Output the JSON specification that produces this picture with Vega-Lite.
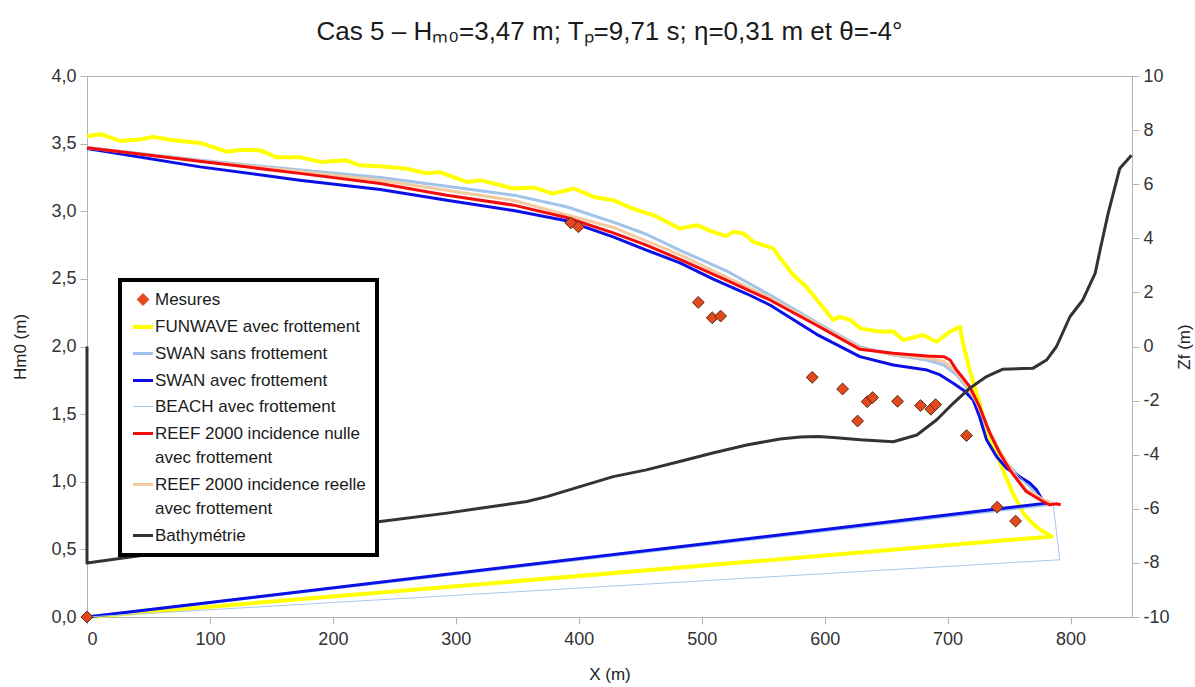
{
  "$schema": "https://vega.github.io/schema/vega-lite/v6.json",
  "width": 1045,
  "height": 541,
  "autosize": "none",
  "padding": {"left": 87, "top": 76, "right": 63, "bottom": 70},
  "background": "white",
  "title": {
    "text": "Cas 5 – Hₘ₀=3,47 m; Tₚ=9,71 s; η=0,31 m et θ=-4°",
    "font": "Liberation Sans",
    "fontSize": 26,
    "fontWeight": "normal",
    "color": "#1a1a1a",
    "offset": 22
  },
  "config": {
    "view": {"stroke": "#b3b3b3", "strokeWidth": 1},
    "axis": {
      "grid": false,
      "domainColor": "#b3b3b3",
      "tickColor": "#b3b3b3",
      "tickSize": 7,
      "labelFont": "Liberation Sans",
      "labelFontSize": 18,
      "labelColor": "#333333",
      "titleFont": "Liberation Sans",
      "titleFontSize": 17,
      "titleFontWeight": "normal",
      "titleColor": "#222222"
    },
    "legend": {"strokeWidth": 4},
    "style": {"guide-label": {"lineHeight": 24}}
  },
  "datasets": {
    "hm0": [
      {"s": "FUNWAVE avec frottement", "X": 0, "H": 3.555},
      {"s": "FUNWAVE avec frottement", "X": 11, "H": 3.57},
      {"s": "FUNWAVE avec frottement", "X": 27, "H": 3.52},
      {"s": "FUNWAVE avec frottement", "X": 43, "H": 3.53},
      {"s": "FUNWAVE avec frottement", "X": 54, "H": 3.55},
      {"s": "FUNWAVE avec frottement", "X": 70, "H": 3.525},
      {"s": "FUNWAVE avec frottement", "X": 92, "H": 3.505},
      {"s": "FUNWAVE avec frottement", "X": 114, "H": 3.44},
      {"s": "FUNWAVE avec frottement", "X": 125, "H": 3.455},
      {"s": "FUNWAVE avec frottement", "X": 141, "H": 3.45},
      {"s": "FUNWAVE avec frottement", "X": 154, "H": 3.4},
      {"s": "FUNWAVE avec frottement", "X": 173, "H": 3.4},
      {"s": "FUNWAVE avec frottement", "X": 190, "H": 3.365},
      {"s": "FUNWAVE avec frottement", "X": 211, "H": 3.377},
      {"s": "FUNWAVE avec frottement", "X": 222, "H": 3.34},
      {"s": "FUNWAVE avec frottement", "X": 241, "H": 3.33},
      {"s": "FUNWAVE avec frottement", "X": 260, "H": 3.315},
      {"s": "FUNWAVE avec frottement", "X": 276, "H": 3.28},
      {"s": "FUNWAVE avec frottement", "X": 287, "H": 3.29},
      {"s": "FUNWAVE avec frottement", "X": 309, "H": 3.217},
      {"s": "FUNWAVE avec frottement", "X": 320, "H": 3.23},
      {"s": "FUNWAVE avec frottement", "X": 347, "H": 3.168},
      {"s": "FUNWAVE avec frottement", "X": 363, "H": 3.176},
      {"s": "FUNWAVE avec frottement", "X": 379, "H": 3.13},
      {"s": "FUNWAVE avec frottement", "X": 396, "H": 3.168},
      {"s": "FUNWAVE avec frottement", "X": 412, "H": 3.106},
      {"s": "FUNWAVE avec frottement", "X": 428, "H": 3.082},
      {"s": "FUNWAVE avec frottement", "X": 444, "H": 3.02},
      {"s": "FUNWAVE avec frottement", "X": 461, "H": 2.97},
      {"s": "FUNWAVE avec frottement", "X": 482, "H": 2.873},
      {"s": "FUNWAVE avec frottement", "X": 496, "H": 2.897},
      {"s": "FUNWAVE avec frottement", "X": 509, "H": 2.848},
      {"s": "FUNWAVE avec frottement", "X": 520, "H": 2.816},
      {"s": "FUNWAVE avec frottement", "X": 526, "H": 2.848},
      {"s": "FUNWAVE avec frottement", "X": 534, "H": 2.836},
      {"s": "FUNWAVE avec frottement", "X": 542, "H": 2.774},
      {"s": "FUNWAVE avec frottement", "X": 550, "H": 2.75},
      {"s": "FUNWAVE avec frottement", "X": 558, "H": 2.725},
      {"s": "FUNWAVE avec frottement", "X": 564, "H": 2.651},
      {"s": "FUNWAVE avec frottement", "X": 574.5, "H": 2.528},
      {"s": "FUNWAVE avec frottement", "X": 585, "H": 2.442},
      {"s": "FUNWAVE avec frottement", "X": 596, "H": 2.319},
      {"s": "FUNWAVE avec frottement", "X": 607, "H": 2.196},
      {"s": "FUNWAVE avec frottement", "X": 612, "H": 2.22},
      {"s": "FUNWAVE avec frottement", "X": 621, "H": 2.196},
      {"s": "FUNWAVE avec frottement", "X": 629, "H": 2.134},
      {"s": "FUNWAVE avec frottement", "X": 645, "H": 2.11},
      {"s": "FUNWAVE avec frottement", "X": 656, "H": 2.11},
      {"s": "FUNWAVE avec frottement", "X": 664, "H": 2.048},
      {"s": "FUNWAVE avec frottement", "X": 680, "H": 2.085},
      {"s": "FUNWAVE avec frottement", "X": 691, "H": 2.035},
      {"s": "FUNWAVE avec frottement", "X": 702, "H": 2.11},
      {"s": "FUNWAVE avec frottement", "X": 710, "H": 2.146},
      {"s": "FUNWAVE avec frottement", "X": 712.7, "H": 2.02},
      {"s": "FUNWAVE avec frottement", "X": 718, "H": 1.826},
      {"s": "FUNWAVE avec frottement", "X": 723.6, "H": 1.654},
      {"s": "FUNWAVE avec frottement", "X": 729, "H": 1.48},
      {"s": "FUNWAVE avec frottement", "X": 734, "H": 1.33},
      {"s": "FUNWAVE avec frottement", "X": 739.8, "H": 1.21},
      {"s": "FUNWAVE avec frottement", "X": 745, "H": 1.088},
      {"s": "FUNWAVE avec frottement", "X": 753, "H": 0.916},
      {"s": "FUNWAVE avec frottement", "X": 761.5, "H": 0.77},
      {"s": "FUNWAVE avec frottement", "X": 767, "H": 0.71},
      {"s": "FUNWAVE avec frottement", "X": 772, "H": 0.67},
      {"s": "FUNWAVE avec frottement", "X": 778, "H": 0.63},
      {"s": "FUNWAVE avec frottement", "X": 784.6, "H": 0.595},
      {"s": "FUNWAVE avec frottement", "X": 0, "H": 0},

      {"s": "SWAN sans frottement", "X": 0, "H": 3.47},
      {"s": "SWAN sans frottement", "X": 100, "H": 3.37},
      {"s": "SWAN sans frottement", "X": 180, "H": 3.3},
      {"s": "SWAN sans frottement", "X": 238.5, "H": 3.25},
      {"s": "SWAN sans frottement", "X": 292.7, "H": 3.185},
      {"s": "SWAN sans frottement", "X": 347, "H": 3.119},
      {"s": "SWAN sans frottement", "X": 390, "H": 3.033},
      {"s": "SWAN sans frottement", "X": 428, "H": 2.92},
      {"s": "SWAN sans frottement", "X": 455, "H": 2.83},
      {"s": "SWAN sans frottement", "X": 482, "H": 2.713},
      {"s": "SWAN sans frottement", "X": 520, "H": 2.56},
      {"s": "SWAN sans frottement", "X": 555.5, "H": 2.381},
      {"s": "SWAN sans frottement", "X": 595, "H": 2.17},
      {"s": "SWAN sans frottement", "X": 628.7, "H": 1.998},
      {"s": "SWAN sans frottement", "X": 655.8, "H": 1.937},
      {"s": "SWAN sans frottement", "X": 683.3, "H": 1.9},
      {"s": "SWAN sans frottement", "X": 697, "H": 1.863},
      {"s": "SWAN sans frottement", "X": 707.3, "H": 1.79},
      {"s": "SWAN sans frottement", "X": 715, "H": 1.703},
      {"s": "SWAN sans frottement", "X": 723.6, "H": 1.58},
      {"s": "SWAN sans frottement", "X": 731.7, "H": 1.408},
      {"s": "SWAN sans frottement", "X": 739.8, "H": 1.26},
      {"s": "SWAN sans frottement", "X": 748, "H": 1.137},
      {"s": "SWAN sans frottement", "X": 758.7, "H": 1.038},
      {"s": "SWAN sans frottement", "X": 766.9, "H": 0.965},
      {"s": "SWAN sans frottement", "X": 775, "H": 0.89},
      {"s": "SWAN sans frottement", "X": 780.5, "H": 0.83},
      {"s": "SWAN sans frottement", "X": 0, "H": 0},

      {"s": "SWAN avec frottement", "X": 0, "H": 3.464},
      {"s": "SWAN avec frottement", "X": 92, "H": 3.328},
      {"s": "SWAN avec frottement", "X": 173, "H": 3.23},
      {"s": "SWAN avec frottement", "X": 238.5, "H": 3.161},
      {"s": "SWAN avec frottement", "X": 292.7, "H": 3.082},
      {"s": "SWAN avec frottement", "X": 347, "H": 3.005},
      {"s": "SWAN avec frottement", "X": 390, "H": 2.93},
      {"s": "SWAN avec frottement", "X": 401, "H": 2.895},
      {"s": "SWAN avec frottement", "X": 428, "H": 2.81},
      {"s": "SWAN avec frottement", "X": 455, "H": 2.713},
      {"s": "SWAN avec frottement", "X": 482.3, "H": 2.619},
      {"s": "SWAN avec frottement", "X": 509, "H": 2.5},
      {"s": "SWAN avec frottement", "X": 536.6, "H": 2.39},
      {"s": "SWAN avec frottement", "X": 555.5, "H": 2.307},
      {"s": "SWAN avec frottement", "X": 593.5, "H": 2.09},
      {"s": "SWAN avec frottement", "X": 628.7, "H": 1.925},
      {"s": "SWAN avec frottement", "X": 655.8, "H": 1.863},
      {"s": "SWAN avec frottement", "X": 683.3, "H": 1.826},
      {"s": "SWAN avec frottement", "X": 694, "H": 1.79},
      {"s": "SWAN avec frottement", "X": 704.6, "H": 1.728},
      {"s": "SWAN avec frottement", "X": 712.7, "H": 1.679},
      {"s": "SWAN avec frottement", "X": 720.8, "H": 1.605},
      {"s": "SWAN avec frottement", "X": 726, "H": 1.481},
      {"s": "SWAN avec frottement", "X": 731.7, "H": 1.31},
      {"s": "SWAN avec frottement", "X": 739.8, "H": 1.186},
      {"s": "SWAN avec frottement", "X": 748, "H": 1.1},
      {"s": "SWAN avec frottement", "X": 756, "H": 1.051},
      {"s": "SWAN avec frottement", "X": 766.9, "H": 0.99},
      {"s": "SWAN avec frottement", "X": 772.4, "H": 0.94},
      {"s": "SWAN avec frottement", "X": 777.7, "H": 0.854},
      {"s": "SWAN avec frottement", "X": 780.5, "H": 0.842},
      {"s": "SWAN avec frottement", "X": 0, "H": 0},

      {"s": "BEACH avec frottement", "X": 0, "H": 3.47},
      {"s": "BEACH avec frottement", "X": 100, "H": 3.37},
      {"s": "BEACH avec frottement", "X": 180, "H": 3.3},
      {"s": "BEACH avec frottement", "X": 238.5, "H": 3.245},
      {"s": "BEACH avec frottement", "X": 292.7, "H": 3.18},
      {"s": "BEACH avec frottement", "X": 347, "H": 3.115},
      {"s": "BEACH avec frottement", "X": 390, "H": 3.03},
      {"s": "BEACH avec frottement", "X": 428, "H": 2.915},
      {"s": "BEACH avec frottement", "X": 455, "H": 2.825},
      {"s": "BEACH avec frottement", "X": 482, "H": 2.71},
      {"s": "BEACH avec frottement", "X": 520, "H": 2.555},
      {"s": "BEACH avec frottement", "X": 555.5, "H": 2.378},
      {"s": "BEACH avec frottement", "X": 595, "H": 2.165},
      {"s": "BEACH avec frottement", "X": 628.7, "H": 1.995},
      {"s": "BEACH avec frottement", "X": 655.8, "H": 1.935},
      {"s": "BEACH avec frottement", "X": 683.3, "H": 1.898},
      {"s": "BEACH avec frottement", "X": 697, "H": 1.86},
      {"s": "BEACH avec frottement", "X": 707.3, "H": 1.787},
      {"s": "BEACH avec frottement", "X": 715, "H": 1.7},
      {"s": "BEACH avec frottement", "X": 723.6, "H": 1.575},
      {"s": "BEACH avec frottement", "X": 731.7, "H": 1.405},
      {"s": "BEACH avec frottement", "X": 739.8, "H": 1.257},
      {"s": "BEACH avec frottement", "X": 748, "H": 1.134},
      {"s": "BEACH avec frottement", "X": 758.7, "H": 1.035},
      {"s": "BEACH avec frottement", "X": 766.9, "H": 0.962},
      {"s": "BEACH avec frottement", "X": 775, "H": 0.887},
      {"s": "BEACH avec frottement", "X": 780.5, "H": 0.85},
      {"s": "BEACH avec frottement", "X": 785.9, "H": 0.83},
      {"s": "BEACH avec frottement", "X": 791.3, "H": 0.423},
      {"s": "BEACH avec frottement", "X": 0, "H": 0},

      {"s": "REEF 2000 incidence reelle avec frottement", "X": 0, "H": 3.47},
      {"s": "REEF 2000 incidence reelle avec frottement", "X": 100, "H": 3.365},
      {"s": "REEF 2000 incidence reelle avec frottement", "X": 238.5, "H": 3.23},
      {"s": "REEF 2000 incidence reelle avec frottement", "X": 347, "H": 3.08},
      {"s": "REEF 2000 incidence reelle avec frottement", "X": 428, "H": 2.88},
      {"s": "REEF 2000 incidence reelle avec frottement", "X": 482, "H": 2.68},
      {"s": "REEF 2000 incidence reelle avec frottement", "X": 555.5, "H": 2.36},
      {"s": "REEF 2000 incidence reelle avec frottement", "X": 628.7, "H": 1.99},
      {"s": "REEF 2000 incidence reelle avec frottement", "X": 655.8, "H": 1.94},
      {"s": "REEF 2000 incidence reelle avec frottement", "X": 683.3, "H": 1.915},
      {"s": "REEF 2000 incidence reelle avec frottement", "X": 697, "H": 1.89},
      {"s": "REEF 2000 incidence reelle avec frottement", "X": 707.3, "H": 1.81},
      {"s": "REEF 2000 incidence reelle avec frottement", "X": 715, "H": 1.72},
      {"s": "REEF 2000 incidence reelle avec frottement", "X": 723.6, "H": 1.59},
      {"s": "REEF 2000 incidence reelle avec frottement", "X": 731.7, "H": 1.42},
      {"s": "REEF 2000 incidence reelle avec frottement", "X": 739.8, "H": 1.27},
      {"s": "REEF 2000 incidence reelle avec frottement", "X": 748, "H": 1.14},
      {"s": "REEF 2000 incidence reelle avec frottement", "X": 758.7, "H": 1.0},
      {"s": "REEF 2000 incidence reelle avec frottement", "X": 764, "H": 0.94},
      {"s": "REEF 2000 incidence reelle avec frottement", "X": 770, "H": 0.92},
      {"s": "REEF 2000 incidence reelle avec frottement", "X": 777, "H": 0.87},
      {"s": "REEF 2000 incidence reelle avec frottement", "X": 786, "H": 0.84},

      {"s": "REEF 2000 incidence nulle avec frottement", "X": 0, "H": 3.47},
      {"s": "REEF 2000 incidence nulle avec frottement", "X": 100, "H": 3.36},
      {"s": "REEF 2000 incidence nulle avec frottement", "X": 173, "H": 3.28},
      {"s": "REEF 2000 incidence nulle avec frottement", "X": 238.5, "H": 3.205},
      {"s": "REEF 2000 incidence nulle avec frottement", "X": 292.7, "H": 3.119},
      {"s": "REEF 2000 incidence nulle avec frottement", "X": 347, "H": 3.045},
      {"s": "REEF 2000 incidence nulle avec frottement", "X": 390, "H": 2.954},
      {"s": "REEF 2000 incidence nulle avec frottement", "X": 428, "H": 2.84},
      {"s": "REEF 2000 incidence nulle avec frottement", "X": 455, "H": 2.75},
      {"s": "REEF 2000 incidence nulle avec frottement", "X": 482.3, "H": 2.644},
      {"s": "REEF 2000 incidence nulle avec frottement", "X": 520, "H": 2.49},
      {"s": "REEF 2000 incidence nulle avec frottement", "X": 555.5, "H": 2.344},
      {"s": "REEF 2000 incidence nulle avec frottement", "X": 595, "H": 2.15},
      {"s": "REEF 2000 incidence nulle avec frottement", "X": 628.7, "H": 1.979},
      {"s": "REEF 2000 incidence nulle avec frottement", "X": 655.8, "H": 1.95},
      {"s": "REEF 2000 incidence nulle avec frottement", "X": 683.3, "H": 1.93},
      {"s": "REEF 2000 incidence nulle avec frottement", "X": 697, "H": 1.925},
      {"s": "REEF 2000 incidence nulle avec frottement", "X": 702, "H": 1.9},
      {"s": "REEF 2000 incidence nulle avec frottement", "X": 707.3, "H": 1.826},
      {"s": "REEF 2000 incidence nulle avec frottement", "X": 712.7, "H": 1.765},
      {"s": "REEF 2000 incidence nulle avec frottement", "X": 718, "H": 1.703},
      {"s": "REEF 2000 incidence nulle avec frottement", "X": 726, "H": 1.555},
      {"s": "REEF 2000 incidence nulle avec frottement", "X": 734.4, "H": 1.359},
      {"s": "REEF 2000 incidence nulle avec frottement", "X": 742.5, "H": 1.211},
      {"s": "REEF 2000 incidence nulle avec frottement", "X": 750.6, "H": 1.088},
      {"s": "REEF 2000 incidence nulle avec frottement", "X": 758.7, "H": 0.99},
      {"s": "REEF 2000 incidence nulle avec frottement", "X": 764, "H": 0.928},
      {"s": "REEF 2000 incidence nulle avec frottement", "X": 770, "H": 0.895},
      {"s": "REEF 2000 incidence nulle avec frottement", "X": 777.7, "H": 0.854},
      {"s": "REEF 2000 incidence nulle avec frottement", "X": 783, "H": 0.829},
      {"s": "REEF 2000 incidence nulle avec frottement", "X": 788.6, "H": 0.837},
      {"s": "REEF 2000 incidence nulle avec frottement", "X": 792, "H": 0.83}
    ],
    "bathy": [
      {"s": "Bathymétrie", "X": 0, "Zf": 0},
      {"s": "Bathymétrie", "X": 0, "Zf": -8.0},
      {"s": "Bathymétrie", "X": 120, "Zf": -7.25},
      {"s": "Bathymétrie", "X": 238.5, "Zf": -6.47},
      {"s": "Bathymétrie", "X": 292.7, "Zf": -6.16},
      {"s": "Bathymétrie", "X": 319.8, "Zf": -5.98},
      {"s": "Bathymétrie", "X": 357.8, "Zf": -5.73},
      {"s": "Bathymétrie", "X": 374, "Zf": -5.55},
      {"s": "Bathymétrie", "X": 401, "Zf": -5.18},
      {"s": "Bathymétrie", "X": 428, "Zf": -4.81},
      {"s": "Bathymétrie", "X": 455, "Zf": -4.56},
      {"s": "Bathymétrie", "X": 482, "Zf": -4.25},
      {"s": "Bathymétrie", "X": 509, "Zf": -3.94},
      {"s": "Bathymétrie", "X": 536.6, "Zf": -3.64},
      {"s": "Bathymétrie", "X": 563.7, "Zf": -3.42},
      {"s": "Bathymétrie", "X": 580, "Zf": -3.35},
      {"s": "Bathymétrie", "X": 595, "Zf": -3.33},
      {"s": "Bathymétrie", "X": 607, "Zf": -3.36},
      {"s": "Bathymétrie", "X": 629, "Zf": -3.45},
      {"s": "Bathymétrie", "X": 655.8, "Zf": -3.52},
      {"s": "Bathymétrie", "X": 675, "Zf": -3.27},
      {"s": "Bathymétrie", "X": 691.2, "Zf": -2.71},
      {"s": "Bathymétrie", "X": 704.6, "Zf": -2.1},
      {"s": "Bathymétrie", "X": 718, "Zf": -1.54},
      {"s": "Bathymétrie", "X": 731.7, "Zf": -1.11},
      {"s": "Bathymétrie", "X": 745, "Zf": -0.84},
      {"s": "Bathymétrie", "X": 769.6, "Zf": -0.8},
      {"s": "Bathymétrie", "X": 780.5, "Zf": -0.5},
      {"s": "Bathymétrie", "X": 788.6, "Zf": 0.0},
      {"s": "Bathymétrie", "X": 799.5, "Zf": 1.1},
      {"s": "Bathymétrie", "X": 810, "Zf": 1.72},
      {"s": "Bathymétrie", "X": 820, "Zf": 2.7},
      {"s": "Bathymétrie", "X": 824, "Zf": 3.56},
      {"s": "Bathymétrie", "X": 830.6, "Zf": 4.92},
      {"s": "Bathymétrie", "X": 840, "Zf": 6.58},
      {"s": "Bathymétrie", "X": 849.6, "Zf": 7.07}
    ],
    "mesures": [
      {"s": "Mesures", "X": 0, "H": 0},
      {"s": "Mesures", "X": 393.5, "H": 2.914},
      {"s": "Mesures", "X": 399.7, "H": 2.885},
      {"s": "Mesures", "X": 497.2, "H": 2.326},
      {"s": "Mesures", "X": 508.6, "H": 2.212},
      {"s": "Mesures", "X": 515.4, "H": 2.225},
      {"s": "Mesures", "X": 589.9, "H": 1.772},
      {"s": "Mesures", "X": 614.6, "H": 1.686},
      {"s": "Mesures", "X": 626.8, "H": 1.449},
      {"s": "Mesures", "X": 634.6, "H": 1.592},
      {"s": "Mesures", "X": 639.0, "H": 1.622},
      {"s": "Mesures", "X": 659.3, "H": 1.595},
      {"s": "Mesures", "X": 678.0, "H": 1.563},
      {"s": "Mesures", "X": 686.4, "H": 1.536},
      {"s": "Mesures", "X": 690.2, "H": 1.57},
      {"s": "Mesures", "X": 715.4, "H": 1.341},
      {"s": "Mesures", "X": 740.3, "H": 0.812},
      {"s": "Mesures", "X": 755.3, "H": 0.709}
    ]
  },
  "resolve": {"scale": {"y": "independent"}},
  "layer": [
    {
      "layer": [
        {
          "data": {"name": "hm0"},
          "mark": {"type": "line", "strokeJoin": "round"},
          "encoding": {
            "x": {"field": "X", "type": "quantitative", "scale": {"domain": [0, 850], "nice": false, "zero": false},
                  "axis": {"values": [0, 100, 200, 300, 400, 500, 600, 700, 800], "title": "X (m)", "labelPadding": 6, "titlePadding": 18}},
            "y": {"field": "H", "type": "quantitative", "scale": {"domain": [0, 4], "nice": false},
                  "axis": {"values": [0, 0.5, 1, 1.5, 2, 2.5, 3, 3.5, 4], "labelExpr": "replace(format(datum.value, '.1f'), '.', ',')", "title": "Hm0 (m)", "labelPadding": 4, "titlePadding": 21}},
            "color": {"field": "s", "type": "nominal",
              "scale": {
                "domain": ["Mesures", "FUNWAVE avec frottement", "SWAN sans frottement", "SWAN avec frottement", "BEACH avec frottement", "REEF 2000 incidence nulle avec frottement", "REEF 2000 incidence reelle avec frottement", "Bathymétrie"],
                "range": ["#e2491c", "#ffff00", "#9fc2ec", "#0a10e6", "#a9c6ea", "#f20c0c", "#f5caa0", "#333333"]
              },
              "legend": {
                "title": null,
                "orient": "none",
                "legendX": 33,
                "legendY": 204,
                "padding": 11,
                "fillColor": "white",
                "strokeColor": "black",
                "labelFont": "Liberation Sans",
                "labelFontSize": 17,
                "labelColor": "#1a1a1a",
                "labelLimit": 400,
                "labelOffset": 0,
                "symbolSize": 400,
                "rowPadding": 7,
                "labelExpr": "indexof(datum.label, 'REEF') == 0 ? [replace(datum.label, ' avec frottement', ''), 'avec frottement'] : datum.label"
              }
            },
            "strokeWidth": {"field": "s", "type": "nominal",
              "scale": {
                "type": "ordinal",
                "domain": ["Mesures", "FUNWAVE avec frottement", "SWAN sans frottement", "SWAN avec frottement", "BEACH avec frottement", "REEF 2000 incidence nulle avec frottement", "REEF 2000 incidence reelle avec frottement", "Bathymétrie"],
                "range": [1, 4, 3, 3, 1, 3, 3, 3]
              }
            },
            "order": {"value": null}
          }
        },
        {
          "data": {"name": "mesures"},
          "mark": {"type": "point", "filled": true, "stroke": "#5c2a14", "strokeWidth": 1, "opacity": 1},
          "encoding": {
            "x": {"field": "X", "type": "quantitative"},
            "y": {"field": "H", "type": "quantitative"},
            "color": {"field": "s", "type": "nominal"},
            "shape": {"field": "s", "type": "nominal",
              "scale": {
                "domain": ["Mesures", "FUNWAVE avec frottement", "SWAN sans frottement", "SWAN avec frottement", "BEACH avec frottement", "REEF 2000 incidence nulle avec frottement", "REEF 2000 incidence reelle avec frottement", "Bathymétrie"],
                "range": ["diamond", "stroke", "stroke", "stroke", "stroke", "stroke", "stroke", "stroke"]
              }
            },
            "size": {"field": "s", "type": "nominal",
              "scale": {
                "type": "ordinal",
                "domain": ["Mesures", "FUNWAVE avec frottement", "SWAN sans frottement", "SWAN avec frottement", "BEACH avec frottement", "REEF 2000 incidence nulle avec frottement", "REEF 2000 incidence reelle avec frottement", "Bathymétrie"],
                "range": [140, 400, 400, 400, 400, 400, 400, 400]
              }
            }
          }
        }
      ]
    },
    {
      "data": {"name": "bathy"},
      "mark": {"type": "line", "strokeJoin": "round"},
      "encoding": {
        "x": {"field": "X", "type": "quantitative"},
        "y": {"field": "Zf", "type": "quantitative", "scale": {"domain": [-10, 10], "nice": false},
              "axis": {"orient": "right", "values": [-10, -8, -6, -4, -2, 0, 2, 4, 6, 8, 10], "labelExpr": "'' + datum.value", "title": "Zf (m)", "labelPadding": 4, "titleAngle": -90, "titleBaseline": "top", "titlePadding": 7}},
        "color": {"field": "s", "type": "nominal"},
        "strokeWidth": {"field": "s", "type": "nominal",
          "scale": {
            "type": "ordinal",
            "domain": ["Mesures", "FUNWAVE avec frottement", "SWAN sans frottement", "SWAN avec frottement", "BEACH avec frottement", "REEF 2000 incidence nulle avec frottement", "REEF 2000 incidence reelle avec frottement", "Bathymétrie"],
            "range": [1, 4, 3, 3, 1, 3, 3, 3]
          }
        },
        "order": {"value": null}
      }
    }
  ]
}
